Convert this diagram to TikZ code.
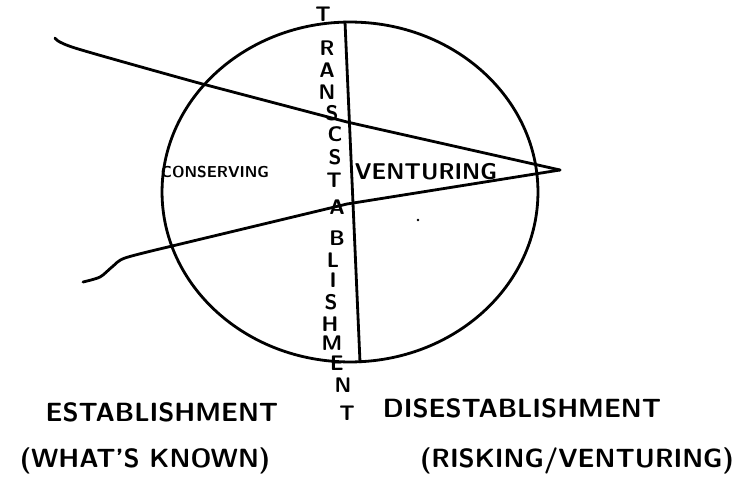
\documentclass[tikz,border=0pt]{standalone}
\usepackage{tikz}
\usetikzlibrary{positioning}
\usetikzlibrary{calc}

\tikzset{
    stroke/.style={line width=1.6pt, line cap=round, line join=round},
    hand/.style={font=\sffamily\bfseries, inner sep=0pt},
    letter/.style={hand, font=\sffamily\bfseries\fontsize{12}{14}\selectfont},
    biglabel/.style={hand, font=\sffamily\bfseries\fontsize{15}{18}\selectfont},
}

\begin{document}
\begin{tikzpicture}[x=0.02cm, y=-0.02cm]
    \useasboundingbox (0,0) rectangle (734,483);

    % circle and the three strokes
    \coordinate (tip) at (560,170);
    \coordinate (top) at (345,22);
    \coordinate (bot) at (360,362);
    \draw[stroke] (350,192) ellipse [x radius=3.76cm, y radius=3.4cm];
    \draw[stroke] (top) -- (bot);
    \draw[stroke] plot[smooth, tension=0.5] coordinates {(55,38) (75,48) (195,82)} -- (347,122) -- (tip);
    \draw[stroke] plot[smooth, tension=0.5] coordinates {(83,282) (100,277) (112,267) (125,258) (168,247)} -- (347,204) -- (tip);
    \fill (418,220) circle (0.8pt);

    % vertical word
    \foreach \ch/\x/\y [count=\i] in {T/323/14, R/327/48, A/327/70, N/327/92, S/332/113,
        C/335/134, S/335/157, T/334/180, A/337/207, B/337/238, L/333/260, I/333/280,
        S/331/302, H/330/324, M/332/343, E/337/363, N/343/385, T/347/413} {
        \node[letter] (let\i) at (\x,\y) {\ch};
    }

    \node[hand, font=\sffamily\bfseries\fontsize{9}{11}\selectfont] (conserving) at (215,172) {CONSERVING};
    \node[hand, font=\sffamily\bfseries\fontsize{13}{15}\selectfont] (venturing) at (426,172) {VENTURING};

    \node[biglabel] (estab) at (162,412) {ESTABLISHMENT};
    \node[biglabel] (disestab) at (522,408) {DISESTABLISHMENT};
    \node[biglabel] (known) at (145,461) {(WHAT'S KNOWN)};
    \node[biglabel] (risking) at (577,461) {(RISKING/VENTURING)};
\end{tikzpicture}
\end{document}
